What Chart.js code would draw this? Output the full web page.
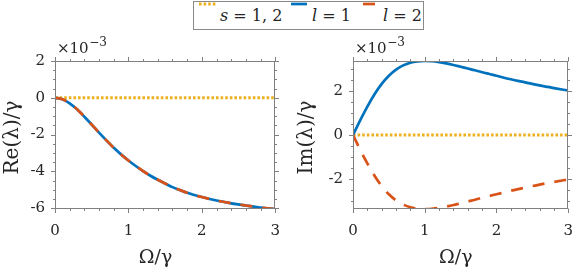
<!DOCTYPE html>
<html><head><meta charset="utf-8">
<script src="https://cdn.jsdelivr.net/npm/chart.js@4.4.1/dist/chart.umd.min.js"></script>
<style>
html,body{margin:0;padding:0;background:#fff;}
#wrap{position:relative;width:586px;height:273px;overflow:hidden;background:#fff;}
#wrap canvas{position:absolute;top:0;}
#legend{position:absolute;left:193px;top:1px;width:229px;height:27px;border:1px solid #8a8a8a;background:#fff;font-family:"DejaVu Serif",serif;font-size:16px;color:#262626;}
.item{position:absolute;top:0;height:27px;line-height:28px;white-space:nowrap;}
.sample{position:absolute;top:12px;}
</style></head><body>
<div id="wrap">
<canvas id="cRe" width="293" height="273" style="left:0"></canvas>
<canvas id="cIm" width="293" height="273" style="left:293px"></canvas>
<div id="legend"></div>
</div>
<script>
// ---- data (units of 1e-3) ----
const omega = [0,0.1,0.2,0.3,0.4,0.5,0.6,0.7,0.8,0.9,1.0,1.1,1.2,1.3,1.4,1.5,1.6,1.7,1.8,1.9,2.0,2.2,2.4,2.6,2.8,3.0];
const reL1  = [0,-0.08,-0.30,-0.63,-1.03,-1.46,-1.90,-2.32,-2.72,-3.08,-3.41,-3.71,-3.99,-4.24,-4.46,-4.66,-4.86,-5.02,-5.17,-5.29,-5.40,-5.59,-5.74,-5.86,-5.97,-6.05];
const reL2  = [0,-0.08,-0.30,-0.63,-1.03,-1.46,-1.90,-2.32,-2.72,-3.08,-3.41,-3.71,-3.99,-4.24,-4.46,-4.66,-4.86,-5.02,-5.17,-5.29,-5.40,-5.59,-5.74,-5.86,-5.97,-6.05];
const imL1  = [0,0.665,1.29,1.85,2.32,2.69,2.97,3.16,3.28,3.34,3.36,3.35,3.31,3.25,3.18,3.10,3.02,2.94,2.85,2.77,2.69,2.53,2.39,2.25,2.13,2.02];
const imL2  = [0,-0.665,-1.29,-1.85,-2.32,-2.69,-2.97,-3.16,-3.28,-3.34,-3.36,-3.35,-3.31,-3.25,-3.18,-3.10,-3.02,-2.94,-2.85,-2.77,-2.69,-2.53,-2.39,-2.25,-2.13,-2.02];
const sOmega = [0,3];
const sRe = [0,0];
const sIm = [0,0];
const seriesLabels = ['s = 1, 2','l = 1','l = 2'];
const xTicks = [0,1,2,3];
const reTicks = [-6,-4,-2,0,2];
const imTicks = [-2,0,2];
const reRange = [-6.05, 2];
const imRange = [-3.36, 3.36];

// ---- style ----
const C_BLUE = '#0072BD', C_ORANGE = '#D95319', C_YELLOW = '#EDB120';
const AX = '#808080', TXT = '#262626';
const SERIF = '"DejaVu Serif", serif';
const LW = 2.7;
const DOT = [2.6, 2.0], DASH = [12, 10];

const pts = (xs, ys) => xs.map((v, i) => ({x: v, y: ys[i]}));

const framePlugin = {
  id: 'frame',
  afterDraw(chart, args, o) {
    const {ctx, chartArea: {left, right, top, bottom}, scales: {x, y}} = chart;
    ctx.save();
    ctx.strokeStyle = AX; ctx.lineWidth = 1;
    const L = Math.round(left) + 0.5, R = Math.round(right) - 0.5, T = Math.round(top) + 0.5, B = Math.round(bottom) - 0.5;
    ctx.strokeRect(L, T, R - L, B - T);
    const tick = (x1, y1, x2, y2) => { ctx.beginPath(); ctx.moveTo(x1, y1); ctx.lineTo(x2, y2); ctx.stroke(); };
    const MAJ = 4.5, MIN = 2.5;
    for (let k = 0; k <= Math.round((x.max - x.min) / o.xMinor); k++) {
      const v = x.min + k * o.xMinor;
      const px = Math.round(x.getPixelForValue(v)) + 0.5;
      const isMaj = Math.abs(v - Math.round(v)) < 1e-6;
      const len = isMaj ? MAJ : MIN;
      tick(px, B, px, B + len);
      tick(px, T, px, T - len);
    }
    const start = Math.ceil(y.min / o.yMinor - 1e-6);
    const end = Math.floor(y.max / o.yMinor + 1e-6);
    for (let k = start; k <= end; k++) {
      const v = k * o.yMinor;
      const py = Math.round(y.getPixelForValue(v)) + 0.5;
      const isMaj = o.yMajor.some(m => Math.abs(m - v) < 1e-6);
      const len = isMaj ? MAJ : MIN;
      tick(L, py, L - len, py);
      tick(R, py, R + len, py);
    }
    ctx.fillStyle = TXT;
    ctx.textBaseline = 'alphabetic';
    ctx.textAlign = 'left';
    ctx.font = '15px ' + SERIF;
    const ex = left + 2, ey = top - 8;
    ctx.fillText('\u00d710', ex, ey);
    const w = ctx.measureText('\u00d710').width;
    ctx.font = '12px ' + SERIF;
    ctx.fillText('\u22123', ex + w + 0.5, ey - 7);
    ctx.restore();
  }
};

function makeChart(id, ys1, ys2, sY, range, yTicks, yTitle, xTitle, yWidth, titlePad, yMajor) {
  return new Chart(document.getElementById(id), {
    type: 'line',
    data: {
      datasets: [
        {label: seriesLabels[0], data: pts(sOmega, sY), borderColor: C_YELLOW, borderWidth: 2.9, borderDash: DOT, borderCapStyle: 'butt', pointRadius: 0, order: 3},
        {label: seriesLabels[1], data: pts(omega, ys1), borderColor: C_BLUE, borderWidth: LW, pointRadius: 0, cubicInterpolationMode: 'monotone', order: 2},
        {label: seriesLabels[2], data: pts(omega, ys2), borderColor: C_ORANGE, borderWidth: LW, borderDash: DASH, borderCapStyle: 'butt', pointRadius: 0, cubicInterpolationMode: 'monotone', order: 1}
      ]
    },
    options: {
      responsive: false, animation: false, devicePixelRatio: 1,
      layout: {padding: {top: 61, right: 6, left: 0, bottom: 0}},
      plugins: {legend: {display: false}, tooltip: {enabled: false},
        frame: {xMinor: 0.2, yMinor: 0.5, yMajor: yMajor}},
      scales: {
        x: {type: 'linear', min: 0, max: 3,
          grid: {display: false, drawTicks: false}, border: {display: false},
          afterBuildTicks: s => { s.ticks = xTicks.map(v => ({value: v})); },
          afterFit: s => { s.height = 64; },
          ticks: {padding: 13, color: TXT, font: {family: SERIF, size: 15}, maxRotation: 0},
          title: {display: true, text: xTitle, color: TXT, font: {family: SERIF, size: 19}, padding: {top: 0, bottom: 4}}
        },
        y: {type: 'linear', min: range[0], max: range[1],
          grid: {display: false, drawTicks: false}, border: {display: false},
          afterBuildTicks: s => { s.ticks = yTicks.map(v => ({value: v})); },
          afterFit: s => { s.width = yWidth; },
          ticks: {padding: 10, color: TXT, font: {family: SERIF, size: 15}, callback: v => String(v)},
          title: {display: true, text: yTitle, color: TXT, font: {family: SERIF, size: 20}, padding: {top: titlePad, bottom: 0}}
        }
      }
    },
    plugins: [framePlugin]
  });
}

makeChart('cRe', reL1, reL2, sRe, reRange, reTicks, 'Re(\u03bb)/\u03b3\u2005', '\u03a9/\u03b3\u2003', 55, 1, reTicks);
makeChart('cIm', imL1, imL2, sIm, imRange, imTicks, 'Im(\u03bb)/\u03b3\u2005', '\u03a9/\u03b3\u2002', 60, 2, imTicks);

// ---- legend (HTML) ----
const lg = document.getElementById('legend');
const legendLayout = [
  {sample: 5, text: 26, color: C_YELLOW, dash: DOT, w: 18, lw: 2.9},
  {sample: 97, text: 118, color: C_BLUE, dash: [], w: 16, lw: LW},
  {sample: 169, text: 189, color: C_ORANGE, dash: DASH, w: 13, lw: LW}
];
seriesLabels.forEach((lab, i) => {
  const L = legendLayout[i];
  const c = document.createElement('canvas');
  c.width = L.w; c.height = 4; c.className = 'sample';
  c.style.left = L.sample + 'px';
  const g = c.getContext('2d');
  g.strokeStyle = L.color; g.lineWidth = L.lw; g.setLineDash(L.dash);
  g.beginPath(); g.moveTo(0, 2); g.lineTo(L.w, 2); g.stroke();
  lg.appendChild(c);
  const t = document.createElement('div');
  t.className = 'item'; t.style.left = L.text + 'px';
  const parts = lab.split(' = ');
  const iv = document.createElement('i'); iv.textContent = parts[0];
  t.appendChild(iv);
  t.appendChild(document.createTextNode(' = ' + parts[1]));
  lg.appendChild(t);
});
</script>
</body></html>
